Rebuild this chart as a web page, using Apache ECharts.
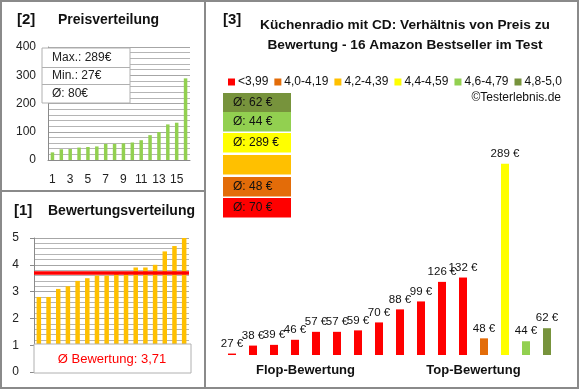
<!DOCTYPE html>
<html><head><meta charset="utf-8">
<script src="https://cdn.jsdelivr.net/npm/echarts@6/dist/echarts.min.js"></script>
<style>html,body{margin:0;padding:0;background:#fff}#c{width:580px;height:390px}</style>
</head><body><div id="c"></div>
<script>
// ---- data ----
var priceCats = ['1','2','3','4','5','6','7','8','9','10','11','12','13','14','15','16'];
var pricesSorted = [27,38,39,44,46,48,57,57,59,62,70,88,99,126,132,289];
var ratingsSorted = [2.8,2.8,3.1,3.2,3.4,3.5,3.6,3.6,3.7,3.7,3.9,3.9,4.0,4.5,4.7,5.0];
var ratingPrices = [27,38,39,46,57,57,59,70,88,99,126,132,48,289,44,62];
var ratingGroup  = [0,0,0,0,0,0,0,0,0,0,0,0,1,3,4,5];
var groupNames = ['<3,99','4,0-4,19','4,2-4,39','4,4-4,59','4,6-4,79','4,8-5,0'];
var groupColors = ['#FF0000','#E36C09','#FFC000','#FFFF00','#92D050','#77933C'];
var bottomCats = ['Flop-Bewertung','Top-Bewertung'];
var priceTicks = [0,100,200,300,400];

var FONT = 'Liberation Sans';
var chart = echarts.init(document.getElementById('c'));

var maxP = Math.max.apply(null, pricesSorted), minP = Math.min.apply(null, pricesSorted);
var avgP = Math.round(pricesSorted.reduce(function(a,b){return a+b;},0)/pricesSorted.length);
var avgR = ratingsSorted.reduce(function(a,b){return a+b;},0)/ratingsSorted.length;
var avgRStr = avgR.toFixed(2).replace('.', ',');

// group averages
var grpAvg = groupNames.map(function(n, g){
  var s=0,c=0; ratingPrices.forEach(function(p,i){ if(ratingGroup[i]===g){s+=p;c++;} });
  return c ? Math.round(s/c) : null;
});

var rightSeries = groupNames.map(function(name, g){
  return {
    type:'bar', name:name, xAxisIndex:2, yAxisIndex:2, barWidth:8, barGap:'-100%',
    itemStyle:{color:groupColors[g]},
    data: ratingPrices.map(function(p,i){ return ratingGroup[i]===g ? p : '-'; }),
    label:{show:true, position:'top', distance:4, formatter:'{c} €', fontSize:11.5, color:'#111', fontFamily:FONT}
  };
});

var graphics = [
  {type:'rect', z:200, shape:{x:1,y:1,width:204,height:190}, style:{fill:'none', stroke:'#8a8a8a', lineWidth:2}},
  {type:'rect', z:200, shape:{x:1,y:191,width:204,height:197}, style:{fill:'none', stroke:'#8a8a8a', lineWidth:2}},
  {type:'rect', z:200, shape:{x:205,y:1,width:373,height:387}, style:{fill:'none', stroke:'#8a8a8a', lineWidth:2}},
  {type:'text', z:200, x:17, y:20, style:{text:'[2]', font:'bold 15px '+FONT, fill:'#111', textVerticalAlign:'middle'}},
  {type:'text', z:200, x:58, y:20, style:{text:'Preisverteilung', font:'bold 14px '+FONT, fill:'#111', textVerticalAlign:'middle'}},
  {type:'text', z:200, x:14, y:211, style:{text:'[1]', font:'bold 15px '+FONT, fill:'#111', textVerticalAlign:'middle'}},
  {type:'text', z:200, x:48, y:211, style:{text:'Bewertungsverteilung', font:'bold 14px '+FONT, fill:'#111', textVerticalAlign:'middle'}},
  {type:'text', z:200, x:223, y:20, style:{text:'[3]', font:'bold 15px '+FONT, fill:'#111', textVerticalAlign:'middle'}},
  {type:'text', z:200, x:405, y:35, style:{text:'Küchenradio mit CD: Verhältnis von Preis zu\nBewertung - 16 Amazon Bestseller im Test', font:'bold 13.7px '+FONT, fill:'#111', textAlign:'center', textVerticalAlign:'middle', lineHeight:20}},
  {type:'text', z:200, x:561, y:98, style:{text:'©Testerlebnis.de', font:'12px '+FONT, fill:'#111', textAlign:'right', textVerticalAlign:'middle'}},
  // stats box
  {type:'rect', z:200, shape:{x:42,y:48,width:88,height:55}, style:{fill:'#fff', stroke:'#b0b0b0', lineWidth:1}},
  {type:'line', z:200, shape:{x1:42,y1:67.5,x2:130,y2:67.5}, style:{stroke:'#b0b0b0', lineWidth:1}},
  {type:'line', z:200, shape:{x1:42,y1:84.5,x2:130,y2:84.5}, style:{stroke:'#b0b0b0', lineWidth:1}},
  {type:'text', z:201, x:52, y:58, style:{text:'Max.: '+maxP+'€', font:'12px '+FONT, fill:'#222', textVerticalAlign:'middle'}},
  {type:'text', z:201, x:52, y:76, style:{text:'Min.: '+minP+'€', font:'12px '+FONT, fill:'#222', textVerticalAlign:'middle'}},
  {type:'text', z:201, x:52, y:94, style:{text:'Ø: '+avgP+'€', font:'12px '+FONT, fill:'#222', textVerticalAlign:'middle'}},
  // rating box
  {type:'rect', z:200, shape:{x:34,y:344,width:157,height:29}, style:{fill:'#fff', stroke:'#b0b0b0', lineWidth:1}},
  {type:'text', z:201, x:112, y:359, style:{text:'Ø Bewertung: '+avgRStr, font:'13px '+FONT, fill:'#FF0000', textAlign:'center', textVerticalAlign:'middle'}}
];
// average boxes (olive at top down to red)
var boxY = [93,112,133,155,177,198];
var order = [5,4,3,2,1,0];
order.forEach(function(g, k){
  graphics.push({type:'rect', z:200, shape:{x:223,y:boxY[k],width:68,height:19.5}, style:{fill:groupColors[g]}});
  if (grpAvg[g] !== null) {
    graphics.push({type:'text', z:201, x:233, y:boxY[k]+10, style:{text:'Ø: '+grpAvg[g]+' €', font:'12px '+FONT, fill:'#111', textVerticalAlign:'middle'}});
  }
});

var gridLine = {lineStyle:{color:'#a6a6a6', width:1}};
var option = {
  animation:false,
  textStyle:{fontFamily:FONT},
  legend:{left:223, top:71, itemWidth:7, itemHeight:7, itemGap:6, icon:'rect',
    data:groupNames, textStyle:{fontSize:12, color:'#111', padding:[0,0,0,-2]}},
  grid:[
    {left:48, top:47, width:142, height:113},
    {left:34, top:238, width:155, height:134},
    {left:221.5, top:119.7, width:336, height:235.3}
  ],
  xAxis:[
    {gridIndex:0, type:'category', data:priceCats, axisTick:{show:false},
      axisLine:{lineStyle:{color:'#8a8a8a'}}, axisLabel:{interval:1, margin:14, fontSize:12, color:'#222'}},
    {gridIndex:1, type:'category', data:priceCats, axisTick:{show:false},
      axisLine:{lineStyle:{color:'#8a8a8a'}}, axisLabel:{show:false}},
    {gridIndex:2, type:'category', data:priceCats, show:false},
    {gridIndex:2, type:'category', data:bottomCats, position:'bottom', axisLine:{show:false}, axisTick:{show:false},
      axisLabel:{margin:9, fontSize:13, fontWeight:'bold', color:'#111'}}
  ],
  yAxis:[
    {gridIndex:0, type:'value', min:priceTicks[0], max:priceTicks[priceTicks.length-1], interval:100,
      axisLine:{show:true, lineStyle:{color:'#8a8a8a'}}, axisTick:{show:false},
      axisLabel:{margin:12, fontSize:12, color:'#222'},
      splitLine:gridLine, minorTick:{show:false, splitNumber:5}, minorSplitLine:{show:true, lineStyle:{color:'#b5b5b5'}}},
    {gridIndex:1, type:'value', min:0, max:5, interval:1,
      axisLine:{show:true, lineStyle:{color:'#8a8a8a'}}, axisTick:{show:true, length:4, lineStyle:{color:'#8a8a8a'}},
      axisLabel:{margin:15, fontSize:12, color:'#222'},
      splitLine:gridLine, minorTick:{show:false, splitNumber:5}, minorSplitLine:{show:true, lineStyle:{color:'#b5b5b5'}}},
    {gridIndex:2, type:'value', min:25, max:350, show:false, splitLine:{show:false}}
  ],
  series:[
    {type:'bar', xAxisIndex:0, yAxisIndex:0, barWidth:3.5, data:pricesSorted, itemStyle:{color:'#92D050'}},
    {type:'bar', xAxisIndex:1, yAxisIndex:1, barWidth:4.5, data:ratingsSorted, itemStyle:{color:'#FFC000'},
      markLine:{silent:true, symbol:'none', label:{show:false}, lineStyle:{color:'#FF0000', width:3.5, type:'solid'},
        data:[{yAxis:avgR}]}}
  ].concat(rightSeries),
  graphic:graphics
};
chart.setOption(option);
</script>
</body></html>
